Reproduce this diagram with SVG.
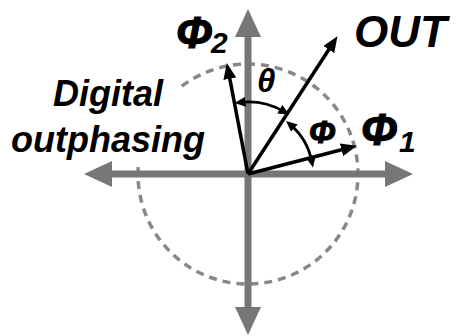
<svg xmlns="http://www.w3.org/2000/svg" width="456" height="336" viewBox="0 0 456 336">
<style>
.lbl{font-family:"Liberation Sans",Arial,sans-serif;font-weight:bold;font-style:italic;fill:#000}
.heavy{stroke:#000;stroke-width:1.2}
.axis{stroke:#777;stroke-width:7;fill:none}
.axhead{fill:#777}
.vec{stroke:#000;stroke-width:3.5;fill:none;marker-end:url(#big)}
.ang{stroke:#000;stroke-width:2.8;fill:none;marker-start:url(#small);marker-end:url(#small)}
</style>
<defs>
<marker id="big" markerUnits="userSpaceOnUse" markerWidth="16" markerHeight="13" refX="7" refY="6.5" orient="auto">
<path d="M0,0 L16,6.5 L0,13 z" fill="#000"/>
</marker>
<marker id="small" markerUnits="userSpaceOnUse" markerWidth="11" markerHeight="10" refX="5" refY="5" orient="auto-start-reverse">
<path d="M0,0 L11,5 L0,10 z" fill="#000"/>
</marker>
</defs>
<rect width="456" height="336" fill="#fff"/>
<g id="circle">
<path d="M181.8,86.2 A110,110 0 1,1 138.6,162.5" fill="none" stroke="#888" stroke-width="3.5" stroke-dasharray="8 6"/>
</g>
<g id="connectors">
<line class="axis" x1="108" y1="174" x2="390" y2="174"/>
<line class="axis" x1="248" y1="33" x2="248" y2="311"/>
<polygon class="axhead" points="84,174 112,161 112,187"/>
<polygon class="axhead" points="413,174 385,161 385,187"/>
<polygon class="axhead" points="248,9 235,37 261,37"/>
<polygon class="axhead" points="248,335 235,307 261,307"/>
<line class="vec" x1="248" y1="174" x2="228.5" y2="71.9"/>
<line class="vec" x1="248" y1="174" x2="332.6" y2="43.7"/>
<line class="vec" x1="248" y1="174" x2="348.3" y2="148"/>
<path class="ang" d="M240.5,102.4 A72,72 0 0,1 284,111.6"/>
<path class="ang" d="M290.6,124.9 A65,65 0 0,1 311.8,161.6"/>
</g>
<g id="phi2"><text class="lbl" x="176" y="48" font-size="44"><tspan class="heavy">Φ</tspan><tspan font-size="30" x="211" y="53">2</tspan></text></g>
<g id="out"><text class="lbl" x="354" y="47" font-size="44">OUT</text></g>
<g id="phi1"><text class="lbl" x="361" y="145" font-size="44"><tspan class="heavy">Φ</tspan><tspan font-size="30" x="399" y="152">1</tspan></text></g>
<g id="theta"><text class="lbl" x="257" y="92" font-size="33">θ</text></g>
<g id="phi"><text class="lbl heavy" x="309" y="143" font-size="32" stroke-width="0.7">Φ</text></g>
<g id="digital">
<text class="lbl" x="108" y="106" font-size="36" text-anchor="middle">Digital</text>
<text class="lbl" x="108" y="152" font-size="36" text-anchor="middle">outphasing</text>
</g>
</svg>
